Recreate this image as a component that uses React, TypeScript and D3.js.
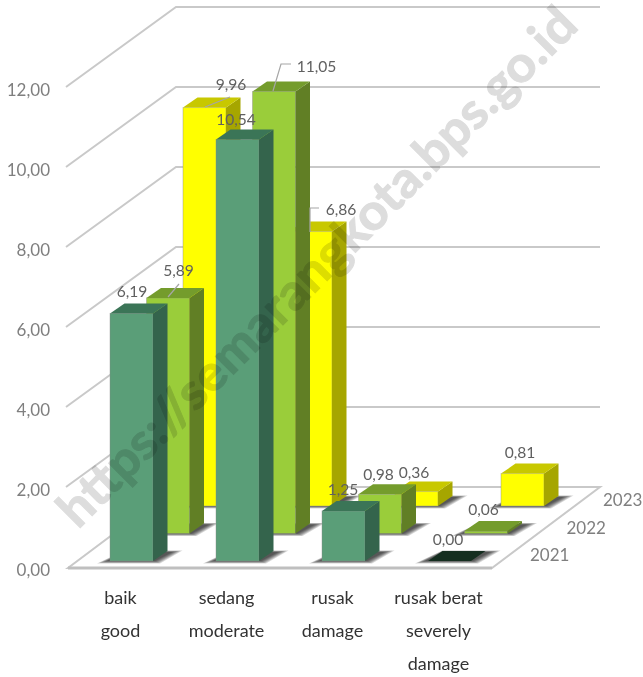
import React from "react";
import * as d3 from "d3";

const categories = ["baik", "sedang", "rusak", "rusak berat"];
const categoryLines = [["baik", "good"], ["sedang", "moderate"], ["rusak", "damage"], ["rusak berat", "severely", "damage"]];
const years = ["2023", "2022", "2021"];
const values2021 = [6.19, 10.54, 1.25, 0.0];
const values2022 = [5.89, 11.05, 0.98, 0.06];
const values2023 = [9.96, 6.86, 0.36, 0.81];
const yTicks = [0, 2, 4, 6, 8, 10, 12];

const seriesValues: Record<string, number[]> = { "2021": values2021, "2022": values2022, "2023": values2023 };
const palette: Record<string, { front: string; side: string; top: string }> = {
  "2021": { front: "#5A9E78", side: "#34644C", top: "#3B7557" },
  "2022": { front: "#9ACD3A", side: "#617F25", top: "#749C2C" },
  "2023": { front: "#FFFF00", side: "#A6A600", top: "#C8C800" },
};

// label placement relative to each bar's front-left top corner
const labelOffset: Record<string, [number, number][]> = {
  "2021": [[22, -16], [20, -14], [21, -16], [20, -16]],
  "2022": [[32, -22], [64, -20], [20, -14], [19, -16]],
  "2023": [[48, -18], [52, -17], [19, -14], [19, -16]],
};
const leaders: Record<string, string> = {
  "2022-0": "M168,297L179,284",
  "2023-0": "M205,107L230,97",
  "2022-1": "M273,91L281,64H291",
  "2023-1": "M310,232V208H319",
};
const shadowLayers = [5, 4, 3, 2, 1, 0];

const W = 643, H = 677;
const y = d3.scaleLinear().domain([0, 12]).range([568, 88]);
const unit = y(0) - y(1);
const catX = d3.scalePoint<string>().domain(categories).range([110, 428]);
const depth = d3.scalePoint<string>().domain(["2021", "2022", "2023"]).range([0, 1]);
const seriesDx = d3.scaleLinear().domain([0, 1]).range([0, 73]);
const seriesDy = d3.scaleLinear().domain([0, 1]).range([0, -55]);
const baseY = 561;
const barW = 43, capX = 14.5, capY = -10;
const wallDx = 108, wallDy = -81, floorW = 424;
const pts = (a: number[][]) => a.map((p) => p.join(",")).join(" ");
const fmt = (v: number) => v.toFixed(2).replace(".", ",");
const labelFont = "Lato, Carlito, sans-serif";

export default function App() {
  return (
    <svg width={W} height={H} viewBox={`0 0 ${W} ${H}`} style={{ position: "absolute", left: 0, top: 0, background: "#fff" }}>
      {yTicks.map((t) => (
        <g key={t} fill="none" stroke="#C9C9C9" strokeWidth={2}>
          {t > 0 && <path d={`M${66},${y(t) - 1}L${68 + wallDx},${y(t) + wallDy}H${68 + wallDx + floorW}`} />}
        </g>
      ))}
      <polygon
        points={pts([[68, y(0)], [68 + floorW, y(0)], [68 + floorW + wallDx, y(0) + wallDy], [68 + wallDx, y(0) + wallDy]])}
        fill="#fff" stroke="#C9C9C9" strokeWidth={2}
      />
      <path d={`M68,${y(0)}H${68 + floorW}`} stroke="#BFBFBF" strokeWidth={3} />
      {years.map((yr) => {
        const d = depth(yr)!;
        const b = baseY + seriesDy(d);
        return (
          <g key={yr}>
            {categories.map((c, i) => {
              const v = seriesValues[yr][i];
              const x = catX(c)! + seriesDx(d);
              const t = b - v * unit;
              const c3 = palette[yr];
              const empty = v === 0;
              const topFill = empty ? "#152E20" : c3.top;
              return (
                <g key={c}>
                  {shadowLayers.map((g) => (
                    <polygon
                      key={g}
                      fill="#000" fillOpacity={0.16}
                      points={pts([
                        [x - 3 - g * 2, b + g * 0.5],
                        [x + barW + 2 + g, b + g * 0.5],
                        [x + barW + capX + 5 + g * 2, b + capY + 1 - g * 0.3],
                        [x + capX, b + capY + 1 - g * 0.3],
                      ])}
                    />
                  ))}
                  {!empty && (
                    <>
                      <rect x={x} y={t} width={barW} height={b - t} fill={c3.front} stroke="#8A8A8A" strokeOpacity={0.45} strokeWidth={0.9} />
                      <polygon points={pts([[x + barW, t], [x + barW + capX, t + capY], [x + barW + capX, b + capY], [x + barW, b]])} fill={c3.side} />
                    </>
                  )}
                  <polygon points={pts([[x, t], [x + capX, t + capY], [x + barW + capX, t + capY], [x + barW, t]])} fill={topFill} />
                </g>
              );
            })}
          </g>
        );
      })}
      <g fill="none" stroke="#A6A6A6" strokeWidth={1.2}>
        {Object.entries(leaders).map(([k, p]) => <path key={k} d={p} />)}
      </g>
      <g fontFamily={labelFont} fontSize={15.6} fill="#606060" textAnchor="middle">
        {years.map((yr) => categories.map((c, i) => {
          const d = depth(yr)!;
          const x = catX(c)! + seriesDx(d);
          const t = baseY + seriesDy(d) - seriesValues[yr][i] * unit;
          const [ox, oy] = labelOffset[yr][i];
          return <text key={yr + c} x={x + ox} y={t + oy}>{fmt(seriesValues[yr][i])}</text>;
        }))}
      </g>
      <g fontFamily={labelFont} fontSize={17} fill="#7F7F7F" textAnchor="end">
        {yTicks.map((t) => <text key={t} x={50} y={y(t) + 8}>{fmt(t)}</text>)}
      </g>
      <g fontFamily={labelFont} fontSize={17} fill="#7F7F7F" textAnchor="start">
        {years.map((yr) => {
          const d = depth(yr)!;
          return <text key={yr} x={530 + seriesDx(d)} y={561 + seriesDy(d)}>{yr}</text>;
        })}
      </g>
      <g fontFamily={labelFont} fontSize={18} fill="#333333" textAnchor="middle">
        {categories.map((c, i) => (
          <text key={c} x={catX(c)! + 10.5} y={604}>
            {categoryLines[i].map((ln, j) => <tspan key={j} x={catX(c)! + 10.5} y={604 + j * 33}>{ln}</tspan>)}
          </text>
        ))}
      </g>
      <text
        transform="translate(78,530) rotate(-45)"
        fontFamily="Lato, sans-serif" fontWeight={700} fontSize={50}
        fill="#DDDDDD" stroke="#DDDDDD" strokeWidth={1} style={{ mixBlendMode: "multiply" }} textLength={710} lengthAdjust="spacingAndGlyphs"
      >https://semarangkota.bps.go.id</text>
    </svg>
  );
}
